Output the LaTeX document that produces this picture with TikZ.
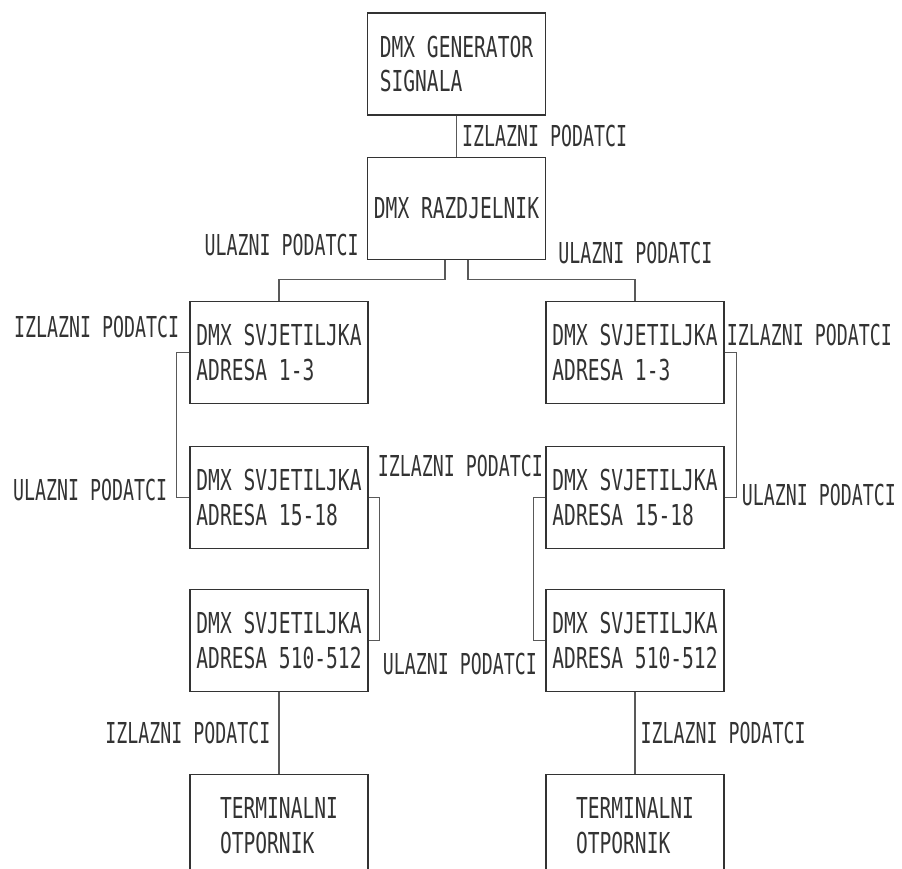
\documentclass[tikz,border=0pt]{standalone}
\usepackage{fontspec}
\newfontfamily\cadfont[FakeStretch=0.68]{DejaVu Sans Mono}
\newfontfamily\cadlbl[FakeStretch=0.634]{DejaVu Sans Mono}
\usetikzlibrary{positioning, calc}

\begin{document}
\begin{tikzpicture}[
  font=\cadfont\fontsize{16.4}{19.9}\selectfont,
  text=black!80,
  block/.style={draw=black!80, line width=0.6pt, minimum width=3.56cm, minimum height=2.04cm,
                align=left, inner sep=0pt},
  wire/.style={draw=black!65, line width=0.6pt},
  al/.style={font=\cadlbl\fontsize{16.4}{19.9}\selectfont, inner sep=0pt},
  node distance=8.2mm
]
  % sheet, the resistor boxes run off the bottom edge
  \useasboundingbox (-9.13,1.28) rectangle (8.91,-16.10);
  \clip (-9.13,1.28) rectangle (8.91,-16.10);

  \node[block]                                    (gen)  {DMX GENERATOR\\SIGNALA};
  \node[block, below=of gen]                      (razd) {DMX RAZDJELNIK};

  \node[block, below=of razd, xshift=-3.55cm]     (l1)   {DMX SVJETILJKA\\ADRESA 1-3};
  \node[block, below=8.4mm of l1]                 (l2)   {DMX SVJETILJKA\\ADRESA 15-18};
  \node[block, below=8mm of l2]                   (l3)   {DMX SVJETILJKA\\ADRESA 510-512};
  \node[block, below=16.4mm of l3]                (tl)   {TERMINALNI\\OTPORNIK};

  \node[block, below=of razd, xshift=3.57cm]      (r1)   {DMX SVJETILJKA\\ADRESA 1-3};
  \node[block, below=8.4mm of r1]                 (r2)   {DMX SVJETILJKA\\ADRESA 15-18};
  \node[block, below=8mm of r2]                   (r3)   {DMX SVJETILJKA\\ADRESA 510-512};
  \node[block, below=16.4mm of r3]                (tr)   {TERMINALNI\\OTPORNIK};

  % generator to splitter
  \draw[wire] (gen) -- node[al, right=1mm] (genout) {IZLAZNI PODATCI} (razd);

  % splitter to both chains
  \draw[wire] ([xshift=-2.3mm]razd.south) -- ++(0,-4mm) -| (l1);
  \draw[wire] ([xshift=2.3mm]razd.south) -- ++(0,-4mm) -| (r1);
  \node[al, anchor=east] (lin)  at ([shift={(-1.6mm,3mm)}]razd.south west) {ULAZNI PODATCI};
  \node[al, anchor=west] (rin)  at ([shift={(2.4mm,1.4mm)}]razd.south east) {ULAZNI PODATCI};

  % left chain
  \draw[wire] (l1.west) -- ++(-2.6mm,0) |- (l2.west);
  \node[al, anchor=east] (l1out) at ([shift={(-2mm,5mm)}]l1.west) {IZLAZNI PODATCI};
  \node[al, anchor=east] (l2in)  at ([shift={(-4.4mm,1.4mm)}]l2.west) {ULAZNI PODATCI};
  \draw[wire] (l2.east) -- ++(2.2mm,0) |- (l3.east);
  \node[al, anchor=west] (l2out) at ([shift={(1.8mm,6.2mm)}]l2.east) {IZLAZNI PODATCI};
  \node[al, anchor=west] (l3in)  at ([shift={(2.8mm,-4.8mm)}]l3.east) {ULAZNI PODATCI};
  \draw[wire] (l3) -- node[al, left=1.6mm] (l3out) {IZLAZNI PODATCI} (tl);

  % right chain
  \draw[wire] (r1.east) -- ++(2.4mm,0) |- (r2.east);
  \node[al, anchor=west] (r1out) at ([shift={(0.4mm,3.4mm)}]r1.east) {IZLAZNI PODATCI};
  \node[al, anchor=west] (r2in)  at ([shift={(3.4mm,0.4mm)}]r2.east) {ULAZNI PODATCI};
  \draw[wire] (r2.west) -- ++(-2.4mm,0) |- (r3.west);
  \draw[wire] (r3) -- node[al, right=1mm] (r3out) {IZLAZNI PODATCI} (tr);
\end{tikzpicture}
\end{document}
